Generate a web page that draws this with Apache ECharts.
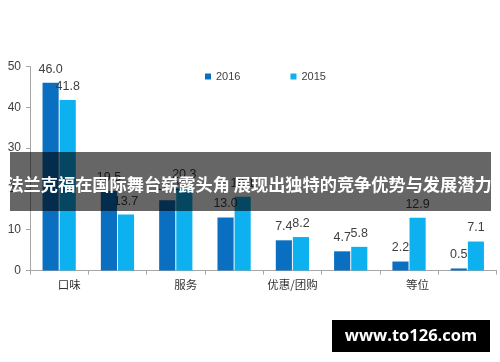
<!DOCTYPE html>
<html>
<head>
<meta charset="utf-8">
<script src="https://cdn.jsdelivr.net/npm/echarts@6/dist/echarts.min.js"></script>
<style>
html,body{margin:0;padding:0;background:#fff;}
#c{width:500px;height:362px;}
</style>
</head>
<body>
<div id="c"></div>
<script>
// Data
const categories = ['口味', '', '服务', '', '优惠/团购', '', '等位', ''];
const series2016 = [46.0, 19.5, 17.2, 13.0, 7.4, 4.7, 2.2, 0.5];
const series2015 = [41.8, 13.7, 20.3, 18.1, 8.2, 5.8, 12.9, 7.1];
const seriesNames = ['2016', '2015'];
const yTicks = [0, 10, 20, 30, 40, 50];
const bannerText = '法兰克福在国际舞台崭露头角 展现出独特的竞争优势与发展潜力';
const watermarkText = 'www.to126.com';

// Style-only: horizontal shift (px of left padding) for each visible category label
const labelShift = [20, 0, 20, 0, 0, 0, 17, 0];

const chart = echarts.init(document.getElementById('c'), null, {renderer: 'canvas'});

const rich = {};
labelShift.forEach((s, i) => {
  rich['p' + i] = {padding: [0, 0, 0, s], fontSize: 11.5, color: '#333', fontFamily: '"Noto Sans CJK SC", sans-serif'};
});

const labelCommon = {
  show: true,
  position: 'top',
  distance: 7,
  fontSize: 12.5,
  color: '#404040',
  fontFamily: '"Liberation Sans", Arial, sans-serif',
  formatter: p => p.value.toFixed(1)
};

chart.setOption({
  animation: false,
  backgroundColor: '#ffffff',
  grid: {left: 30, right: 3.5, top: 66.5, bottom: 91.5, containLabel: false},
  legend: {
    data: seriesNames,
    left: 200,
    top: 66,
    icon: 'rect',
    itemWidth: 6,
    itemHeight: 6,
    itemGap: 50,
    textStyle: {fontSize: 11, color: '#404040', fontFamily: '"Liberation Sans", Arial, sans-serif'}
  },
  xAxis: {
    type: 'category',
    data: categories,
    axisLine: {lineStyle: {color: '#a6a6a6', width: 1}},
    axisTick: {show: true, length: 4, interval: 0, lineStyle: {color: '#a6a6a6'}},
    axisLabel: {
      interval: 0,
      margin: 8,
      formatter: (v, i) => v ? '{p' + i + '|' + v + '}' : '',
      rich: rich
    },
    splitLine: {show: false}
  },
  yAxis: {
    type: 'value',
    min: yTicks[0],
    max: yTicks[yTicks.length - 1],
    interval: 10,
    axisLine: {show: true, lineStyle: {color: '#a6a6a6', width: 1}},
    axisTick: {show: true, length: 4, lineStyle: {color: '#a6a6a6'}},
    axisLabel: {fontSize: 12, color: '#404040', margin: 9, fontFamily: '"Liberation Sans", Arial, sans-serif'},
    splitLine: {show: false}
  },
  series: [
    {
      name: seriesNames[0],
      type: 'bar',
      data: series2016,
      barGap: '6%',
      barCategoryGap: '43%',
      itemStyle: {color: '#0a6fc0'},
      label: labelCommon
    },
    {
      name: seriesNames[1],
      type: 'bar',
      data: series2015,
      barGap: '6%',
      barCategoryGap: '43%',
      itemStyle: {color: '#0eb1ef'},
      label: labelCommon
    }
  ],
  graphic: [
    {
      type: 'rect',
      z: 100,
      shape: {x: 10, y: 152, width: 481, height: 59},
      style: {fill: 'rgba(0,0,0,0.6)'}
    },
    {
      type: 'text',
      z: 101,
      x: 249,
      y: 184,
      style: {
        text: bannerText,
        fill: '#ffffff',
        font: 'bold 17.2px "Noto Sans CJK SC", sans-serif',
        textAlign: 'center',
        textVerticalAlign: 'middle'
      }
    },
    {
      type: 'rect',
      z: 100,
      shape: {x: 332, y: 320, width: 158, height: 32},
      style: {fill: '#000000'}
    },
    {
      type: 'text',
      z: 101,
      x: 411,
      y: 336,
      style: {
        text: watermarkText,
        fill: '#ffffff',
        font: 'bold 16.5px "Open Sans", sans-serif',
        textAlign: 'center',
        textVerticalAlign: 'middle'
      }
    }
  ]
});
</script>
</body>
</html>
